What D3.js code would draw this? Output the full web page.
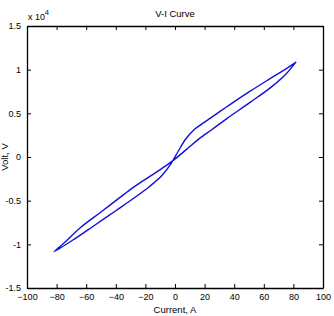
<!DOCTYPE html>
<html>
<head>
<meta charset="utf-8">
<script src="https://cdn.jsdelivr.net/npm/d3@7"></script>
<style>
  body { margin: 0; background: #fff; }
  svg { display: block; font-family: "Liberation Sans", Arial, sans-serif; }
  .axis text { font-size: 9px; fill: #000; }
  .axis path, .axis line { stroke: #000; }
</style>
</head>
<body>
<svg id="chart" width="334" height="316"></svg>
<script>
// tick values
var xTicks = [-100, -80, -60, -40, -20, 0, 20, 40, 60, 80, 100];
var yTicks = [-1.5, -1, -0.5, 0, 0.5, 1, 1.5];

// branch going up: upper on the left side, lower on the right side (current A, volt x 1e4)
var upCurrent = [-81.8, -75, -64, -50, -40, -30, -19, -10, -1.6, 8, 16, 25, 35, 50.7, 65, 75, 81.6];
var upVolt    = [-1.085, -0.985, -0.81, -0.63, -0.50, -0.37, -0.244, -0.145, -0.045, 0.09, 0.205, 0.315, 0.44, 0.625, 0.80, 0.95, 1.084];

// branch going down: upper on the right side, lower on the left side
var downCurrent = [81.6, 75, 65, 50, 35, 20, 13, 7, 2, -3, -9, -17, -26, -40, -55, -68];
var downVolt    = [1.084, 1.01, 0.905, 0.745, 0.575, 0.40, 0.315, 0.20, 0.06, -0.085, -0.215, -0.335, -0.45, -0.615, -0.79, -0.94];

var margin = {top: 26, right: 11, bottom: 28, left: 27},
    width = 334 - margin.left - margin.right,
    height = 316 - margin.top - margin.bottom;

var svg = d3.select('#chart');
var g = svg.append('g')
    .attr('transform', 'translate(' + margin.left + ',' + margin.top + ')');

var x = d3.scaleLinear().domain([-100, 100]).range([0, width]);
var y = d3.scaleLinear().domain([-1.5, 1.5]).range([height, 0]);

// the loop, drawn as one closed path
var pts = [];
upCurrent.forEach(function(c, i) { pts.push([c, upVolt[i]]); });
downCurrent.forEach(function(c, i) { pts.push([c, downVolt[i]]); });

var line = d3.line()
    .x(function(d) { return x(d[0]); })
    .y(function(d) { return y(d[1]); })
    .curve(d3.curveCatmullRomClosed.alpha(0.5));

g.append('path')
    .datum(pts)
    .attr('d', line)
    .attr('fill', 'none')
    .attr('stroke', '#1010d8')
    .attr('stroke-width', 1.4)
    .attr('stroke-linejoin', 'round');

// axes, MATLAB style with inward ticks on every side
g.append('g')
    .attr('class', 'axis axis--x')
    .attr('transform', 'translate(0,' + height + ')')
    .call(d3.axisBottom(x).tickValues(xTicks).tickSizeInner(-4).tickSizeOuter(0).tickPadding(6));

g.append('g')
    .attr('class', 'axis')
    .call(d3.axisTop(x).tickValues(xTicks).tickSizeInner(-4).tickSizeOuter(0).tickFormat(''));

g.append('g')
    .attr('class', 'axis axis--y')
    .call(d3.axisLeft(y).tickValues(yTicks).tickSizeInner(-4).tickSizeOuter(0).tickPadding(6)
        .tickFormat(function(d) { return d; }));

g.append('g')
    .attr('class', 'axis')
    .attr('transform', 'translate(' + width + ',0)')
    .call(d3.axisRight(y).tickValues(yTicks).tickSizeInner(-4).tickSizeOuter(0).tickFormat(''));

g.selectAll('.axis path.domain').attr('stroke-width', 1.3);

// title and labels
svg.append('text')
    .attr('x', margin.left + width / 2)
    .attr('y', 17)
    .attr('text-anchor', 'middle')
    .style('font-size', '9.5px')
    .text('V-I Curve');

var mult = svg.append('text')
    .attr('x', margin.left + 1)
    .attr('y', 20)
    .style('font-size', '9px');
mult.append('tspan').text('x 10');
mult.append('tspan').attr('dy', -5).style('font-size', '7px').text('4');

svg.append('text')
    .attr('x', margin.left + width / 2)
    .attr('y', 313)
    .attr('text-anchor', 'middle')
    .style('font-size', '9.5px')
    .text('Current, A');

// y label sits close to the left edge, as in the reference
svg.append('text')
    .attr('transform', 'translate(8,' + (margin.top + height / 2) + ') rotate(-90)')
    .attr('text-anchor', 'middle')
    .style('font-size', '9.5px')
    .text('Volt, V');
</script>
</body>
</html>
